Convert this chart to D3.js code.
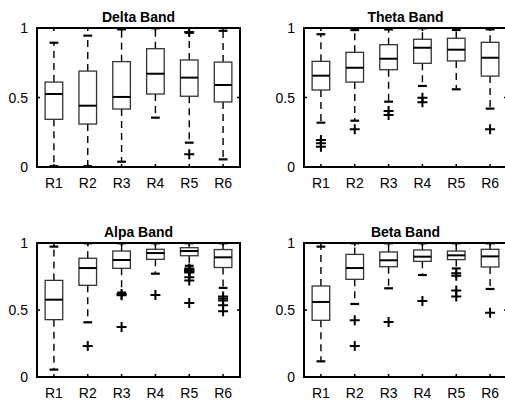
<!DOCTYPE html>
<html><head><meta charset="utf-8">
<script src="https://cdn.jsdelivr.net/npm/d3@7"></script>
<style>body{margin:0;background:#fff}svg{display:block}</style>
</head><body>
<svg id="c" width="505" height="400"></svg>
<script>
const categories = ["R1","R2","R3","R4","R5","R6"];
const titles = ["Delta Band","Theta Band","Alpa Band","Beta Band"];
const yTicks = [0, 0.5, 1];

// Delta
const deltaLow = [0.006, 0.006, 0.038, 0.355, 0.175, 0.055];
const deltaQ1 = [0.343, 0.309, 0.417, 0.525, 0.509, 0.468];
const deltaMed = [0.525, 0.441, 0.504, 0.671, 0.643, 0.59];
const deltaQ3 = [0.611, 0.69, 0.758, 0.851, 0.77, 0.755];
const deltaHigh = [0.894, 0.945, 0.99, 0.998, 0.965, 0.98];
const deltaOut = [[], [], [], [], [0.091, 0.972], []];

// Theta
const thetaLow = [0.319, 0.333, 0.47, 0.583, 0.559, 0.42];
const thetaQ1 = [0.554, 0.611, 0.70, 0.746, 0.763, 0.654];
const thetaMed = [0.657, 0.714, 0.779, 0.858, 0.844, 0.786];
const thetaQ3 = [0.76, 0.825, 0.88, 0.919, 0.926, 0.897];
const thetaHigh = [0.955, 0.985, 0.99, 0.998, 0.986, 0.99];
const thetaOut = [[0.194, 0.17, 0.146], [0.271], [0.403, 0.374], [0.499, 0.466], [], [0.271]];

// Alpa
const alpaLow = [0.055, 0.408, 0.63, 0.771, 0.83, 0.665];
const alpaQ1 = [0.428, 0.684, 0.811, 0.878, 0.905, 0.817];
const alpaMed = [0.577, 0.813, 0.873, 0.925, 0.94, 0.893];
const alpaQ3 = [0.721, 0.886, 0.94, 0.953, 0.965, 0.951];
const alpaHigh = [0.973, 0.998, 0.998, 0.998, 0.998, 0.998];
const alpaOut = [[], [0.231], [0.62, 0.61, 0.373], [0.612],
  [0.81, 0.8, 0.795, 0.79, 0.785, 0.78, 0.745, 0.72, 0.552],
  [0.6, 0.585, 0.57, 0.535, 0.49]];

// Beta
const betaLow = [0.117, 0.545, 0.662, 0.761, 0.81, 0.657];
const betaQ1 = [0.423, 0.729, 0.823, 0.863, 0.876, 0.821];
const betaMed = [0.56, 0.813, 0.871, 0.898, 0.908, 0.9];
const betaQ3 = [0.679, 0.915, 0.933, 0.948, 0.94, 0.953];
const betaHigh = [0.973, 0.998, 0.998, 0.998, 0.998, 0.998];
const betaOut = [[], [0.423, 0.231], [0.41], [0.567], [0.775, 0.755, 0.645, 0.6], [0.48]];

const bands = [
  {low: deltaLow, q1: deltaQ1, med: deltaMed, q3: deltaQ3, high: deltaHigh, out: deltaOut},
  {low: thetaLow, q1: thetaQ1, med: thetaMed, q3: thetaQ3, high: thetaHigh, out: thetaOut},
  {low: alpaLow, q1: alpaQ1, med: alpaMed, q3: alpaQ3, high: alpaHigh, out: alpaOut},
  {low: betaLow, q1: betaQ1, med: betaMed, q3: betaQ3, high: betaHigh, out: betaOut}
];

const panels = [
  {x0: 37, x1: 240, y0: 28, y1: 167},
  {x0: 304, x1: 507, y0: 28, y1: 167},
  {x0: 37, x1: 240, y0: 243, y1: 377},
  {x0: 304, x1: 507, y0: 243, y1: 377}
];

const svg = d3.select("#c");
const font = "Liberation Sans, Arial, sans-serif";

panels.forEach((p, i) => {
  const b = bands[i];
  const x = d3.scaleBand().domain(categories).range([p.x0, p.x1]).paddingInner(0).paddingOuter(0);
  const y = d3.scaleLinear().domain([0, 1]).range([p.y1, p.y0]);
  const step = x.step();
  const bw = step * 0.52;
  const cw = bw * 0.5;
  const g = svg.append("g");

  // title
  g.append("text").attr("x", (p.x0 + p.x1) / 2).attr("y", p.y0 - 6)
    .attr("text-anchor", "middle").attr("font-family", font)
    .attr("font-weight", "bold").attr("font-size", 14).text(titles[i]);

  categories.forEach((c, k) => {
    const cx = x(c) + step / 2;
    // whiskers dashed
    g.append("line").attr("x1", cx).attr("x2", cx).attr("y1", y(b.q3[k])).attr("y2", y(b.high[k]))
      .attr("stroke", "#000").attr("stroke-width", 1.4).attr("stroke-dasharray", "7,5");
    g.append("line").attr("x1", cx).attr("x2", cx).attr("y1", y(b.q1[k])).attr("y2", y(b.low[k]))
      .attr("stroke", "#000").attr("stroke-width", 1.4).attr("stroke-dasharray", "7,5");
    // caps
    [b.high[k], b.low[k]].forEach(v => {
      g.append("line").attr("x1", cx - cw / 2).attr("x2", cx + cw / 2).attr("y1", y(v)).attr("y2", y(v))
        .attr("stroke", "#000").attr("stroke-width", 2.2);
    });
    // box
    g.append("rect").attr("x", cx - bw / 2).attr("y", y(b.q3[k]))
      .attr("width", bw).attr("height", y(b.q1[k]) - y(b.q3[k]))
      .attr("fill", "none").attr("stroke", "#333").attr("stroke-width", 1.3);
    // median
    g.append("line").attr("x1", cx - bw / 2).attr("x2", cx + bw / 2)
      .attr("y1", y(b.med[k])).attr("y2", y(b.med[k]))
      .attr("stroke", "#000").attr("stroke-width", 2);
    // outliers
    b.out[k].forEach(v => {
      const py = y(v);
      g.append("path").attr("d", `M${cx - 5},${py}H${cx + 5}M${cx},${py - 5}V${py + 5}`)
        .attr("stroke", "#000").attr("stroke-width", 2).attr("fill", "none");
    });
  });

  // axes box
  g.append("rect").attr("x", p.x0).attr("y", p.y0).attr("width", p.x1 - p.x0).attr("height", p.y1 - p.y0)
    .attr("fill", "none").attr("stroke", "#000").attr("stroke-width", 2);

  // x ticks inward (bottom and top)
  categories.forEach(c => {
    const cx = x(c) + step / 2;
    g.append("line").attr("x1", cx).attr("x2", cx).attr("y1", p.y1).attr("y2", p.y1 - 3)
      .attr("stroke", "#000").attr("stroke-width", 1.5);
    g.append("line").attr("x1", cx).attr("x2", cx).attr("y1", p.y0).attr("y2", p.y0 + 3)
      .attr("stroke", "#000").attr("stroke-width", 1.5);
    g.append("text").attr("x", cx).attr("y", p.y1 + 21).attr("text-anchor", "middle")
      .attr("font-family", font).attr("font-size", 14).text(c);
  });
  // y ticks
  yTicks.forEach(t => {
    g.append("line").attr("x1", p.x0).attr("x2", p.x0 + 3).attr("y1", y(t)).attr("y2", y(t))
      .attr("stroke", "#000").attr("stroke-width", 1.5);
    g.append("line").attr("x1", p.x1).attr("x2", p.x1 - 3).attr("y1", y(t)).attr("y2", y(t))
      .attr("stroke", "#000").attr("stroke-width", 1.5);
    g.append("text").attr("x", p.x0 - 9).attr("y", y(t) + 5).attr("text-anchor", "end")
      .attr("font-family", font).attr("font-size", 14).text(d3.format("")(t));
  });
});
</script>
</body></html>
